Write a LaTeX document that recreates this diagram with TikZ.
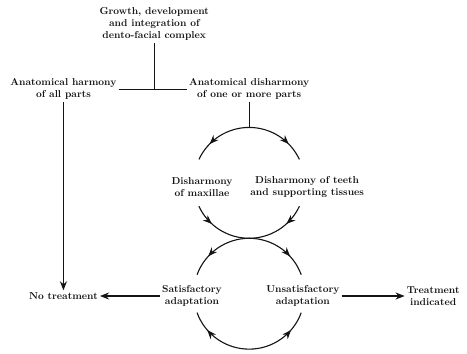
\documentclass[tikz,border=0pt]{standalone}
\usepackage{tikz}
\usetikzlibrary{arrows.meta, positioning, calc, decorations.markings}
\definecolor{inkdark}{RGB}{20,20,20}
\tikzset{
  stage/.style={align=center, font=\bfseries, inner sep=2pt, text=inkdark},
  flow/.style={-{Stealth[length=9pt,width=7pt]}, line width=1.1pt, color=inkdark},
  line/.style={line width=1.1pt, color=inkdark},
  midarrow/.style={decoration={markings,
    mark=at position #1 with {\arrow{Stealth[length=9pt,width=7pt]}}},
    postaction={decorate}}
}
\begin{document}
\begin{tikzpicture}
  \useasboundingbox (0,0) rectangle (16.345,-12.39);
  % top of the scheme
  \node[stage] (growth) at (5.40,-0.84) {Growth, development\\and integration of\\dento-facial complex};
  \node[stage] (harmony) at (2.22,-3.12) {Anatomical harmony\\of all parts};
  \node[stage] (dis) at (8.72,-3.12) {Anatomical disharmony\\of one or more parts};
  \draw[line] (harmony.east) -- (dis.west);
  \draw[line] (growth) -- (growth |- harmony.east);
  % the two rings
  \coordinate (upc) at (8.72,-6.40);
  \coordinate (lowc) at (8.72,-10.28);
  \coordinate (utop) at ($(upc)+(90:1.94)$);
  \node[stage] (maxil) at (7.07,-6.55) {Disharmony\\of maxillae};
  \node[stage] (teeth) at (10.75,-6.55) {Disharmony of teeth\\and supporting tissues};
  \node[stage] (satis) at (6.72,-10.36) {Satisfactory\\adaptation};
  \node[stage] (unsatis) at (10.60,-10.36) {Unsatisfactory\\adaptation};
  \draw[line] (dis) -- (utop);
  \foreach \c/\s/\e/\p in {upc/90/155/0.7, upc/90/25/0.7, upc/205/270/0.35, upc/335/270/0.35,
                           lowc/90/160/0.68, lowc/90/20/0.68, lowc/270/200/0.7, lowc/270/340/0.7}
    \draw[line, midarrow=\p] ($(\c)+(\s:1.94)$) arc[start angle=\s, end angle=\e, radius=1.94];
  % outcomes
  \node[stage] (notreat) at (2.22,-10.36) {No treatment};
  \node[stage] (treat) at (15.16,-10.36) {Treatment\\indicated};
  \draw[flow] (harmony) -- (notreat);
  \draw[flow] (satis) -- (notreat);
  \draw[flow] (unsatis) -- (treat);
\end{tikzpicture}
\end{document}
